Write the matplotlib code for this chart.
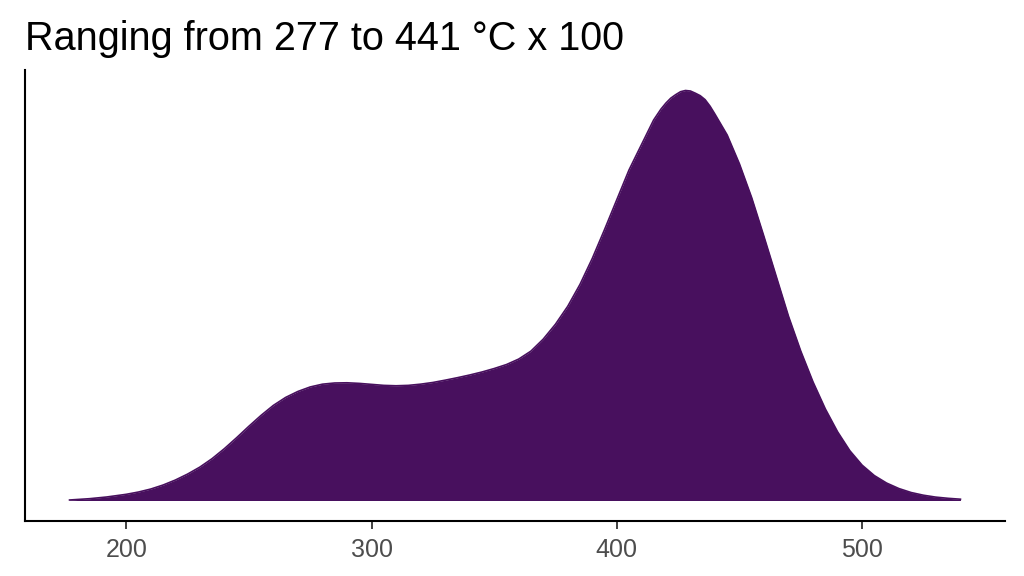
import matplotlib
matplotlib.use("Agg")
import matplotlib.pyplot as plt

# density curve (temperature / 100 °C, density x 1e-3)
temp = [176.9, 185, 192, 200, 205, 210, 215, 220, 225, 230,
        235, 240, 245, 250, 255, 260, 265, 270, 275, 280,
        285, 290, 295, 300, 305, 310, 315, 320, 325, 330,
        335, 340, 345, 350, 355, 360, 365, 370, 375, 380,
        385, 390, 395, 400, 405, 410, 415, 418, 420, 422,
        424, 426, 428, 430, 432, 434, 436, 438, 440, 445,
        450, 455, 460, 465, 470, 475, 480, 485, 490, 495,
        500, 505, 510, 515, 520, 525, 530, 535, 540.1]
height = [0.5, 1.8, 3.5, 6.2, 8.5, 11.5, 15.5, 20.5, 26.5, 33.5,
          42.0, 52.0, 63.0, 74.5, 85.5, 95.5, 103.5, 109.5, 114.0, 116.8,
          118.0, 118.2, 117.6, 116.6, 115.6, 115.2, 115.6, 116.8, 118.5, 120.8,
          123.3, 126.0, 129.0, 132.5, 136.5, 142.0, 150.0, 162.0, 177.0, 195.0,
          217.0, 243.0, 272.0, 302.0, 332.0, 357.0, 382.0, 393.0, 399.0, 404.0,
          407.5, 410.5, 411.7, 411.2, 409.0, 406.5, 402.5, 396.0, 388.0, 367.0,
          338.0, 304.0, 265.0, 225.0, 185.0, 150.0, 119.0, 92.0, 69.0, 50.0,
          35.5, 25.0, 17.5, 12.0, 8.0, 5.3, 3.4, 2.2, 1.3]
density = [h * 6.6 / 411.7 for h in height]

xticks = [200, 300, 400, 500]
title = "Ranging from 277 to 441 °C x 100"

plt.rcParams['font.family'] = ['Liberation Sans', 'DejaVu Sans']

fig = plt.figure(figsize=(10.24, 5.76), dpi=100)
ax = fig.add_axes([25/1024, 1 - 521/576, 980/1024, 451/576])

col = "#48105E"
ax.fill_between(temp, 0, density, color=col, linewidth=0)
ax.plot(temp, density, color=col, linewidth=1.2)

rng = max(temp) - min(temp)
ax.set_xlim(min(temp) - 0.05 * rng, max(temp) + 0.05 * rng)
top = max(density)
ax.set_ylim(-0.05 * top, 1.05 * top)

ax.set_xticks(xticks)
ax.set_xticklabels([str(t) for t in xticks])
ax.set_yticks([])
ax.tick_params(axis='x', length=6, width=1.3, color='#333333',
               labelsize=18, labelcolor='#4D4D4D', pad=6)

for s in ['top', 'right']:
    ax.spines[s].set_visible(False)
for s in ['left', 'bottom']:
    ax.spines[s].set_linewidth(1.5)
    ax.spines[s].set_color('black')

fig.text(25/1024, 1 - 50/576, title, fontsize=28.5, va='baseline', ha='left')

fig.savefig("out.png", dpi=100, facecolor='white')
